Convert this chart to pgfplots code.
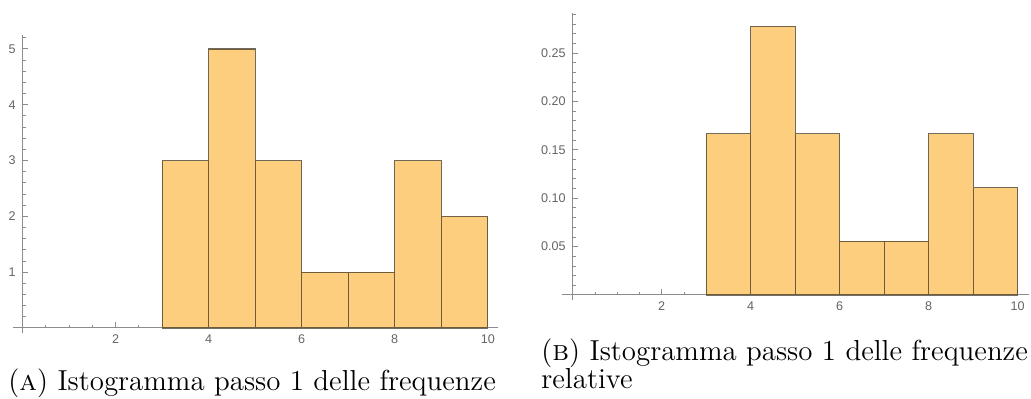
\documentclass[border=0pt]{standalone}
\usepackage{fontspec}
\usepackage{pgfplots}
\pgfplotsset{compat=1.18}
\newfontfamily\tickfont{Liberation Sans}
\definecolor{barfill}{RGB}{252,206,126}
\definecolor{axisgray}{RGB}{140,140,140}
\definecolor{labelgray}{RGB}{100,100,100}
\pgfplotsset{
  mmastyle/.style={
    scale only axis,
    axis lines=middle,
    axis line style={-, draw=axisgray, line width=0.5pt},
    tick align=inside,
    major tick length=2.8pt,
    minor tick length=1.6pt,
    every major tick/.style={draw=axisgray, line width=0.5pt},
    every minor tick/.style={draw=axisgray, line width=0.45pt},
    /pgf/number format/assume math mode=true,
    ticklabel style={font=\tickfont\fontsize{6.3}{7}\selectfont, text=labelgray},
    xtick={2,4,6,8,10},
    minor xtick={0.5,1,1.5,2.5,3,3.5,4.5,5,5.5,6.5,7,7.5,8.5,9,9.5},
    clip=false,
  },
  histbar/.style={ybar interval, fill=barfill, draw=black!85!barfill, draw opacity=0.65, line width=0.55pt},
}
\begin{document}
\begin{tikzpicture}
\useasboundingbox (0,0) rectangle (515.5pt,199pt);
% (a) absolute frequencies
\begin{axis}[mmastyle,
  at={(6.65pt,32.5pt)}, anchor=south west,
  width=242.35pt, height=149pt,
  xmin=-0.2, xmax=10.22, ymin=-0.09, ymax=5.25,
  ytick={1,2,3,4,5},
  minor ytick={0.2,0.4,0.6,0.8,1.2,1.4,1.6,1.8,2.2,2.4,2.6,2.8,3.2,3.4,3.6,3.8,4.2,4.4,4.6,4.8,5.2},
]
\addplot[histbar] coordinates {(3,3) (4,5) (5,3) (6,1) (7,1) (8,3) (9,2) (10,2)};
\end{axis}
% (b) relative frequencies
\begin{axis}[mmastyle,
  at={(280.8pt,49.1pt)}, anchor=south west,
  width=233.6pt, height=143.3pt,
  xmin=-0.25, xmax=10.25, ymin=-0.005, ymax=0.2914,
  ytick={0.05,0.10,0.15,0.20,0.25},
  yticklabels={0.05,0.10,0.15,0.20,0.25},
  minor ytick={0.01,0.02,0.03,0.04,0.06,0.07,0.08,0.09,0.11,0.12,0.13,0.14,0.16,0.17,0.18,0.19,0.21,0.22,0.23,0.24,0.26,0.27,0.28,0.29},
]
\addplot[histbar] coordinates {(3,0.16667) (4,0.27778) (5,0.16667) (6,0.05556) (7,0.05556) (8,0.16667) (9,0.11111) (10,0.11111)};
\end{axis}
\node[anchor=base west, inner sep=0, font=\fontsize{14.45}{17}\selectfont] at (4pt,4pt) {(\textsc{a}) Istogramma passo 1 delle frequenze};
\node[anchor=base west, inner sep=0, font=\fontsize{14.45}{17}\selectfont] at (270.5pt,19pt) {(\textsc{b}) Istogramma passo 1 delle frequenze};
\node[anchor=base west, inner sep=0, font=\fontsize{14.45}{17}\selectfont] at (270.5pt,5pt) {relative};
\end{tikzpicture}
\end{document}
